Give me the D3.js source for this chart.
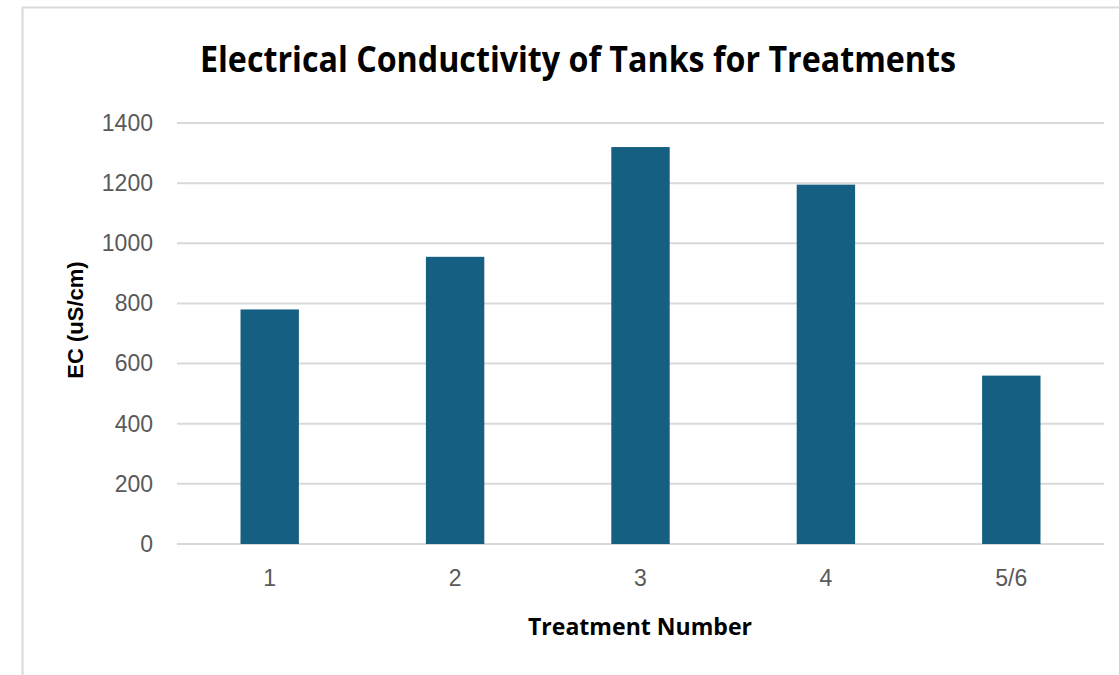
<!DOCTYPE html>
<html>
<head>
<meta charset="utf-8">
<script src="https://cdn.jsdelivr.net/npm/d3@7"></script>
<style>
  body { margin: 0; background: #fff; }
  svg { display: block; }
</style>
</head>
<body>
<div id="chart"></div>
<script>
// data
const treatments = ["1", "2", "3", "4", "5/6"];
const ecValues = [780, 955, 1320, 1195, 560];
const yTicks = [0, 200, 400, 600, 800, 1000, 1200, 1400];

const W = 1119, H = 675;
const margin = { top: 123, right: 15, bottom: 131, left: 177 };
const width = W - margin.left - margin.right,
    height = H - margin.top - margin.bottom;

const svg = d3.select("#chart")
    .append("svg")
    .attr("width", W)
    .attr("height", H);

// chart area frame (runs off the picture on the right and bottom)
svg.append("rect")
    .attr("x", 22.5).attr("y", 7.5)
    .attr("width", 1200).attr("height", 800)
    .attr("fill", "#fff")
    .attr("stroke", "#d9d9d9")
    .attr("stroke-width", 2);

const g = svg.append("g")
    .attr("transform", `translate(${margin.left},${margin.top})`);

const x = d3.scaleBand()
    .domain(treatments)
    .range([0, width])
    .paddingInner(0.685)
    .paddingOuter(0.3425);

const y = d3.scaleLinear()
    .domain([0, 1400])
    .range([height, 0]);

// gridlines
g.selectAll(".grid")
    .data(yTicks)
    .join("line")
    .attr("x1", 0).attr("x2", width)
    .attr("y1", d => y(d)).attr("y2", d => y(d))
    .attr("stroke", "#d9d9d9")
    .attr("stroke-width", 2);

// bars
g.selectAll(".bar")
    .data(ecValues)
    .join("rect")
    .attr("x", (d, i) => x(treatments[i]))
    .attr("y", d => y(d))
    .attr("width", x.bandwidth())
    .attr("height", d => y(0) - y(d))
    .attr("fill", "#156082");

// y axis labels
const yAxis = g.append("g")
    .call(d3.axisLeft(y).tickValues(yTicks).tickFormat(d3.format("d"))
        .tickSize(0).tickPadding(24));
yAxis.select(".domain").remove();
yAxis.selectAll("text")
    .attr("font-family", "Liberation Sans, Arial, sans-serif")
    .attr("font-size", 23)
    .attr("fill", "#595959");

// x axis labels
const xAxis = g.append("g")
    .attr("transform", `translate(0,${height})`)
    .call(d3.axisBottom(x).tickSize(0).tickPadding(26));
xAxis.select(".domain").remove();
xAxis.selectAll("text")
    .attr("font-family", "Liberation Sans, Arial, sans-serif")
    .attr("font-size", 23)
    .attr("fill", "#595959");

// title
svg.append("text")
    .attr("x", 578)
    .attr("y", 72)
    .attr("text-anchor", "middle")
    .attr("font-family", "Open Sans, sans-serif")
    .attr("font-weight", "bold")
    .attr("font-size", 35)
    .attr("textLength", 756)
    .attr("lengthAdjust", "spacingAndGlyphs")
    .attr("fill", "#000")
    .text("Electrical Conductivity of Tanks for Treatments");

// axis titles
svg.append("text")
    .attr("x", 640)
    .attr("y", 635)
    .attr("text-anchor", "middle")
    .attr("font-family", "Open Sans, sans-serif")
    .attr("font-weight", "bold")
    .attr("font-size", 23)
    .attr("textLength", 224)
    .attr("lengthAdjust", "spacingAndGlyphs")
    .attr("fill", "#000")
    .text("Treatment Number");

svg.append("text")
    .attr("transform", "translate(83,320) rotate(-90)")
    .attr("text-anchor", "middle")
    .attr("font-family", "Liberation Sans, Arial, sans-serif")
    .attr("font-weight", "bold")
    .attr("font-size", 22)
    .attr("fill", "#000")
    .text("EC (uS/cm)");
</script>
</body>
</html>
